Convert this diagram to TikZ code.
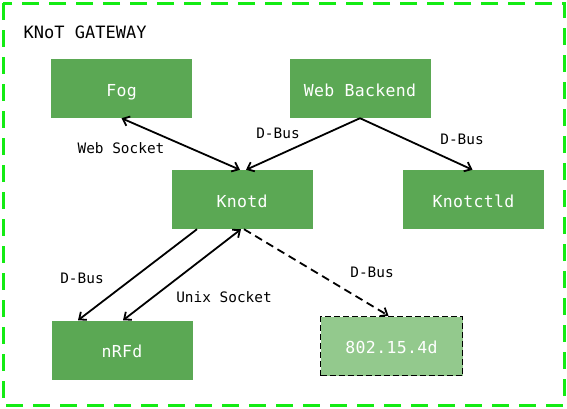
\documentclass[tikz,border=0pt]{standalone}
\usepackage{fontspec}
\setmainfont{DejaVu Sans Mono}
\newfontfamily\boxfont[LetterSpace=2]{DejaVu Sans Mono}
\usetikzlibrary{arrows.meta}
\definecolor{boxgreen}{RGB}{91,168,84}
\definecolor{lightgreen}{RGB}{147,201,141}
\definecolor{bordergreen}{RGB}{20,235,20}
\tikzset{
  comp/.style={fill=boxgreen, draw=none, minimum width=141pt, minimum height=59pt, inner sep=0pt,
    text height=15.5pt, text depth=0pt,
    text=white, font=\boxfont\fontsize{16.5}{18}\selectfont},
  conn/.style={line width=1.8pt, -{Straight Barb[length=6pt,width=10pt]}},
  biconn/.style={line width=1.8pt, {Straight Barb[length=6pt,width=10pt]}-{Straight Barb[length=6pt,width=10pt]}},
  lbl/.style={font=\fontsize{14.4}{16}\selectfont, inner sep=0pt}
}
\begin{document}
\begin{tikzpicture}[x=1pt,y=-1pt]
\useasboundingbox (0,0) rectangle (567,408);
\draw[bordergreen, line width=3pt, dash pattern=on 17pt off 10pt] (3,3) rectangle (564,405);
\node[font=\fontsize{17}{19}\selectfont, anchor=west, inner sep=0pt] (title) at (23.5,32) {KNoT GATEWAY};
\node[comp] (fog) at (121.5,88.5) {Fog};
\node[comp] (wb) at (360,88.5) {Web Backend};
\node[comp] (knotd) at (242,199.5) {Knotd};
\node[comp] (ctl) at (473.5,199.5) {Knotctld};
\node[comp] (nrf) at (122,350) {nRFd};
\node[comp, fill=lightgreen, draw=black, line width=1.6pt, dash pattern=on 6pt off 3pt, minimum width=142pt, minimum height=59pt] (ieee) at (391.5,346) {802.15.4d};

\draw[biconn] (fog.south) -- ([xshift=-2pt]knotd.north);
\draw[conn] (wb.south) -- ([xshift=4pt]knotd.north);
\draw[conn] (wb.south) -- ([xshift=-1pt]ctl.north);
\draw[conn] ([xshift=-45pt]knotd.south) -- ([xshift=-44pt]nrf.south |- nrf.north);
\draw[biconn] ([xshift=1pt]nrf.north) -- ([xshift=-1pt]knotd.south);
\draw[conn, dash pattern=on 8pt off 5pt] ([xshift=2pt]knotd.south) -- ([xshift=-3pt]ieee.north);

\node[lbl] (l1) at (121,148) {Web Socket};
\node[lbl] (l2) at (278,133) {D-Bus};
\node[lbl] (l3) at (462,139) {D-Bus};
\node[lbl] (l4) at (82,278) {D-Bus};
\node[lbl] (l5) at (224,297) {Unix Socket};
\node[lbl] (l6) at (372,272) {D-Bus};
\end{tikzpicture}
\end{document}
